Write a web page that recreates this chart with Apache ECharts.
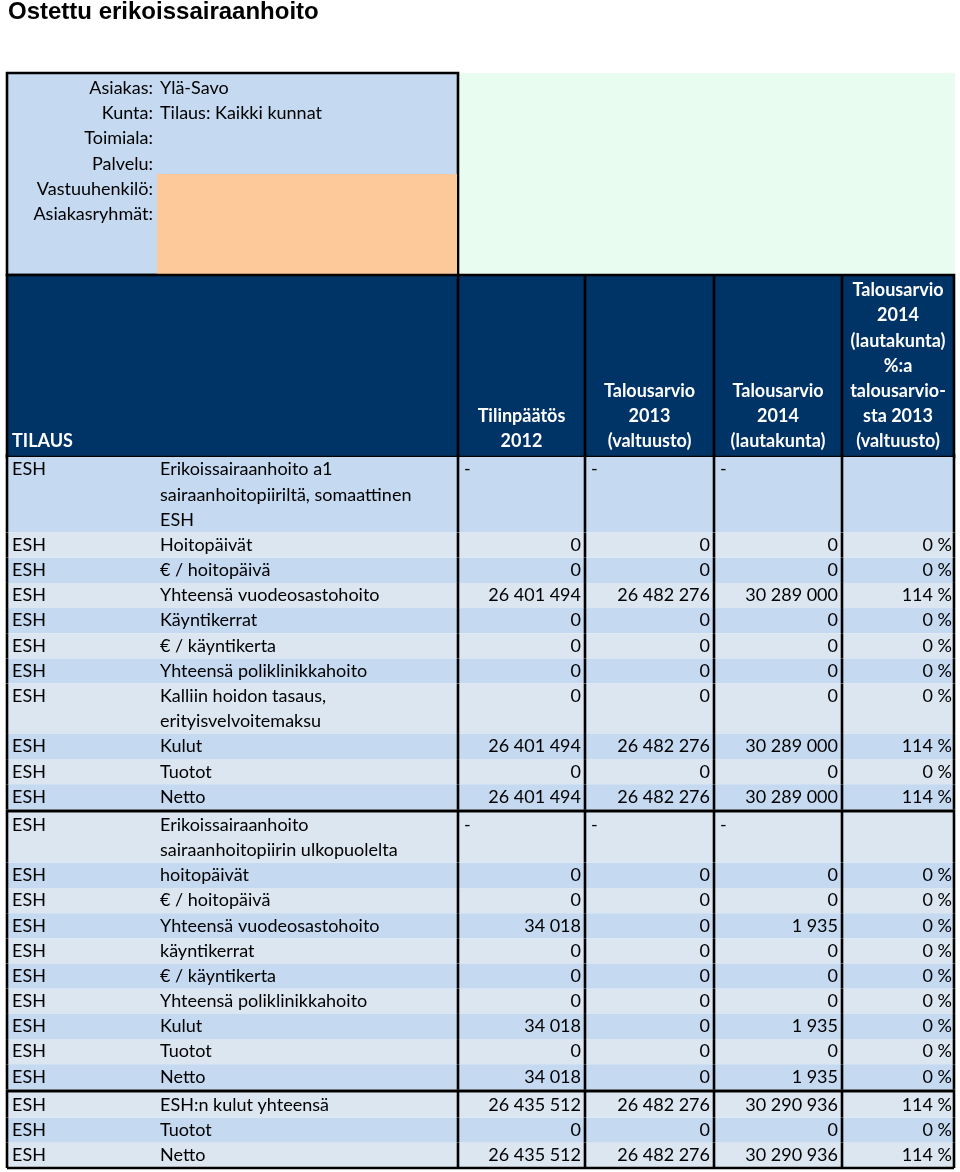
<!DOCTYPE html>
<html><head><meta charset="utf-8">
<script src="https://cdn.jsdelivr.net/npm/echarts@6.0.0/dist/echarts.min.js"></script>
<style>html,body{margin:0;padding:0;background:#fff}#c{width:960px;height:1172px}</style>
</head><body><div id="c"></div>
<script>
// ---------- content ----------
const title = 'Ostettu erikoissairaanhoito';
const infoLabels = ['Asiakas:', 'Kunta:', 'Toimiala:', 'Palvelu:', 'Vastuuhenkilö:', 'Asiakasryhmät:'];
const infoValues = ['Ylä-Savo', 'Tilaus: Kaikki kunnat', '', '', '', ''];
const cornerHeader = 'TILAUS';
const columnHeaders = [
  'Tilinpäätös\n2012',
  'Talousarvio\n2013\n(valtuusto)',
  'Talousarvio\n2014\n(lautakunta)',
  'Talousarvio\n2014\n(lautakunta)\n%:a\ntalousarvio-\nsta 2013\n(valtuusto)'
];
const rowCodes = ['ESH','ESH','ESH','ESH','ESH','ESH','ESH','ESH','ESH','ESH','ESH',
                  'ESH','ESH','ESH','ESH','ESH','ESH','ESH','ESH','ESH','ESH',
                  'ESH','ESH','ESH'];
const rowLabels = [
  'Erikoissairaanhoito a1\nsairaanhoitopiiriltä, somaattinen\nESH',
  'Hoitopäivät',
  '€ / hoitopäivä',
  'Yhteensä vuodeosastohoito',
  'Käyntikerrat',
  '€ / käyntikerta',
  'Yhteensä poliklinikkahoito',
  'Kalliin hoidon tasaus,\nerityisvelvoitemaksu',
  'Kulut',
  'Tuotot',
  'Netto',
  'Erikoissairaanhoito\nsairaanhoitopiirin ulkopuolelta',
  'hoitopäivät',
  '€ / hoitopäivä',
  'Yhteensä vuodeosastohoito',
  'käyntikerrat',
  '€ / käyntikerta',
  'Yhteensä poliklinikkahoito',
  'Kulut',
  'Tuotot',
  'Netto',
  'ESH:n kulut yhteensä',
  'Tuotot',
  'Netto'
];
// null = heading row ("-")
const tilinpaatos2012 = [null,0,0,26401494,0,0,0,0,26401494,0,26401494,
                         null,0,0,34018,0,0,0,34018,0,34018,
                         26435512,0,26435512];
const talousarvio2013 = [null,0,0,26482276,0,0,0,0,26482276,0,26482276,
                         null,0,0,0,0,0,0,0,0,0,
                         26482276,0,26482276];
const talousarvio2014 = [null,0,0,30289000,0,0,0,0,30289000,0,30289000,
                         null,0,0,1935,0,0,0,1935,0,1935,
                         30290936,0,30290936];
const muutosPct = [null,0,0,114,0,0,0,0,114,0,114,
                   null,0,0,0,0,0,0,0,0,0,
                   114,0,114];
const sectionStarts = [0, 11, 21];

// ---------- layout / style ----------
const FONT = 'Lato, "Open Sans", sans-serif';
const FS = 18;
const DARK = '#c5d9f1', LIGHT = '#dce6f1', NAVY = '#003366';
const GAP = 0.12;
const colEdges = [451, 578, 707, 835, 947]; // x-axis units, relative to table left
const LW = 2.6;

const nLines = rowLabels.map(s => s.split('\n').length);
const rowTop = [];
let acc = 0;
rowLabels.forEach((l, i) => {
  if (i > 0 && sectionStarts.includes(i)) acc += GAP;
  rowTop.push(acc);
  acc += nLines[i];
});
const TOTAL = acc;

function fmtNum(v) {
  return String(v).replace(/\B(?=(\d{3})+(?!\d))/g, ' ');
}
const numCols = [tilinpaatos2012, talousarvio2013, talousarvio2014];

const chart = echarts.init(document.getElementById('c'));

const graphics = [];
// title
graphics.push({type:'text', left:8, top:0, style:{text:title, font:'bold 24px "Liberation Sans", Arial, sans-serif', fill:'#000'}});
// info box
graphics.push({type:'rect', shape:{x:458, y:73, width:497, height:202}, style:{fill:'#e8fcef'}});
graphics.push({type:'rect', shape:{x:7, y:73, width:451, height:202}, style:{fill:DARK, stroke:'#000', lineWidth:LW}});
graphics.push({type:'rect', shape:{x:157, y:174, width:300, height:100}, style:{fill:'#fdc99b'}});
infoLabels.forEach((t, i) => {
  graphics.push({type:'text', x:153, y:88 + i*25.3, style:{text:t, font:FS+'px '+FONT, fill:'#000', align:'right', verticalAlign:'middle'}});
  if (infoValues[i]) graphics.push({type:'text', x:160, y:88 + i*25.3, style:{text:infoValues[i], font:FS+'px '+FONT, fill:'#000', align:'left', verticalAlign:'middle'}});
});
// navy header
graphics.push({type:'rect', shape:{x:7, y:275, width:947, height:182}, style:{fill:NAVY, stroke:'#000', lineWidth:LW}});
[458, 585, 714, 842].forEach(x => graphics.push({type:'line', shape:{x1:x, y1:275, x2:x, y2:457}, style:{stroke:'#000', lineWidth:LW}}));
graphics.push({type:'text', x:12, y:441, style:{text:cornerHeader, font:'bold '+FS+'px '+FONT, fill:'#fff', align:'left', verticalAlign:'middle'}});
const headCenters = [521.5, 649.5, 778, 898];
columnHeaders.forEach((t, i) => {
  const n = t.split('\n').length;
  graphics.push({type:'text', x:headCenters[i], y:454 - n*25.18, style:{text:t, font:'bold '+FS+'px '+FONT, fill:'#fff', align:'center', verticalAlign:'top', lineHeight:25.18}});
});

function renderItem(params, api) {
  const i = api.value(0);
  const top = rowTop[i], bot = top + nLines[i];
  const y0 = api.coord([0, top])[1], y1 = api.coord([0, bot])[1];
  const lh = api.size([0, 1])[1];
  const X = v => api.coord([v, 0])[0];
  const ch = [];
  ch.push({type:'rect', shape:{x:X(0), y:y0, width:X(colEdges[4]) - X(0), height:y1 - y0}, style:{fill: i % 2 === 0 ? DARK : LIGHT}});
  const cy = y0 + lh / 2;
  ch.push({type:'text', style:{text:rowCodes[i], x:X(5), y:cy, fill:'#000', font:FS+'px '+FONT, align:'left', verticalAlign:'middle'}});
  ch.push({type:'text', style:{text:rowLabels[i], x:X(153), y:y0, fill:'#000', font:FS+'px '+FONT, align:'left', verticalAlign:'top', lineHeight:lh}});
  numCols.forEach((col, c) => {
    const v = col[i];
    if (v === null) {
      ch.push({type:'text', style:{text:'-', x:X(colEdges[c]) + 6, y:cy, fill:'#000', font:FS+'px '+FONT, align:'left', verticalAlign:'middle'}});
    } else {
      ch.push({type:'text', style:{text:fmtNum(v), x:X(colEdges[c+1]) - 4, y:cy, fill:'#000', font:FS+'px '+FONT, align:'right', verticalAlign:'middle'}});
    }
  });
  if (muutosPct[i] !== null) {
    ch.push({type:'text', style:{text:muutosPct[i] + ' %', x:X(colEdges[4]) - 2, y:cy, fill:'#000', font:FS+'px '+FONT, align:'right', verticalAlign:'middle'}});
  }
  // vertical rules
  const yA = sectionStarts.includes(i) ? y0 - api.size([0, GAP])[1] : y0;
  [0, colEdges[0], colEdges[1], colEdges[2], colEdges[3], colEdges[4]].forEach(xv => {
    ch.push({type:'line', shape:{x1:X(xv), y1:yA, x2:X(xv), y2:y1}, style:{stroke:'#000', lineWidth:LW}});
  });
  // section separators
  if (sectionStarts.includes(i) && i > 0) {
    const ys = y0 - api.size([0, GAP])[1] / 2;
    ch.push({type:'line', shape:{x1:X(0), y1:ys, x2:X(colEdges[4]), y2:ys}, style:{stroke:'#000', lineWidth:3}});
  }
  if (i === rowLabels.length - 1) {
    ch.push({type:'line', shape:{x1:X(0), y1:y1, x2:X(colEdges[4]), y2:y1}, style:{stroke:'#000', lineWidth:LW}});
  }
  return {type:'group', children:ch};
}

chart.setOption({
  animation: false,
  grid: {left:7, top:457, width:948, height:711, containLabel:false},
  xAxis: {type:'value', min:0, max:948, show:false},
  yAxis: {type:'value', min:0, max:TOTAL, inverse:true, show:false},
  graphic: graphics,
  series: [{
    type:'custom',
    coordinateSystem:'cartesian2d',
    renderItem: renderItem,
    clip:false,
    encode:{x:1, y:0},
    data: rowLabels.map((l, i) => [i, 0])
  }]
});
</script></body></html>
